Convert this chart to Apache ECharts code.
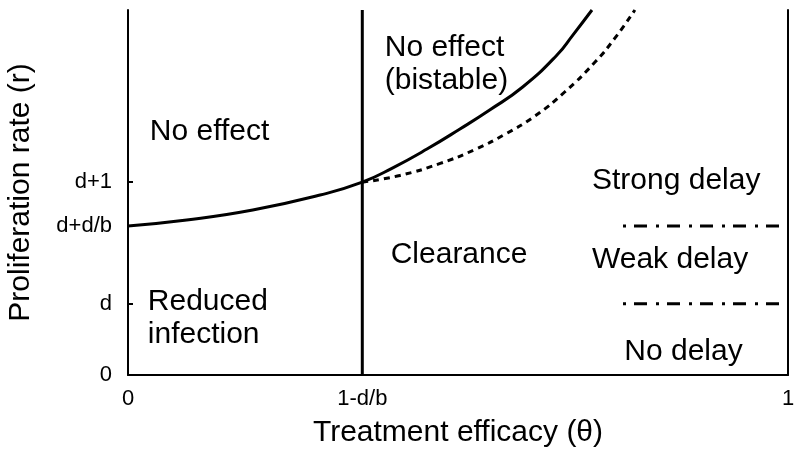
<!DOCTYPE html>
<html><head><meta charset="utf-8">
<script src="https://cdn.jsdelivr.net/npm/echarts@6/dist/echarts.min.js"></script>
<style>html,body{margin:0;padding:0;background:#fff}#c{width:800px;height:459px}</style>
</head><body><div id="c"></div>
<script>
// ---- data ----
const xTickValues = [0, 0.355, 1];
const xTickLabels = ['0', '1-d/b', '1'];
const yTickValues = [0, 0.585, 1.225, 1.585];
const yTickLabels = ['0', 'd', 'd+d/b', 'd+1'];
const thresholdTheta = 0.355;
const solidTheta = [0, 0.089, 0.189, 0.291, 0.355, 0.402, 0.453, 0.503, 0.548, 0.598, 0.650, 0.674, 0.703];
const solidR     = [1.225, 1.274, 1.356, 1.479, 1.585, 1.705, 1.857, 2.022, 2.178, 2.367, 2.630, 2.794, 3.0];
const dashedTheta = [0.355, 0.412, 0.473, 0.526, 0.571, 0.617, 0.662, 0.708, 0.738, 0.768];
const dashedR     = [1.585, 1.640, 1.739, 1.854, 1.978, 2.130, 2.328, 2.574, 2.771, 3.0];
const delayTheta = [0.75, 1];
const delayLevels = [1.225, 0.585];
const regionNames = ['No effect', 'No effect\n(bistable)', 'Strong delay', 'Weak delay', 'Clearance', 'No delay', 'Reduced\ninfection'];
const regionTheta = [0.033, 0.389, 0.703, 0.703, 0.398, 0.752, 0.030];
const regionR     = [1.997, 2.556, 1.594, 0.945, 0.986, 0.189, 0.464];
const xMax = 1, yMax = 3;

// ---- chart ----
const FONT = '"Liberation Sans", Arial, sans-serif';
const chart = echarts.init(document.getElementById('c'));
const pairs = (xs, ys) => xs.map((x, i) => [x, ys[i]]);
const series = [
  { type: 'line', data: pairs(solidTheta, solidR), smooth: 0.5, symbol: 'none',
    lineStyle: { color: '#000', width: 3 } },
  { type: 'line', data: pairs(dashedTheta, dashedR), smooth: 0.5, symbol: 'none',
    lineStyle: { color: '#000', width: 3, type: [6, 5] } },
  { type: 'line', data: [[thresholdTheta, 0], [thresholdTheta, yMax]], symbol: 'none',
    lineStyle: { color: '#000', width: 3 } }
];
delayLevels.forEach(v => series.push({
  type: 'line', data: delayTheta.map(t => [t, v]), symbol: 'none',
  lineStyle: { color: '#000', width: 3, type: [3, 8, 13, 9] }
}));
series.push({
  type: 'scatter', symbolSize: 0, silent: true, itemStyle: { opacity: 1, color: '#000' },
  data: regionNames.map((n, i) => ({ value: [regionTheta[i], regionR[i]], name: n })),
  label: { show: true, position: 'right', distance: 0, formatter: p => p.name, opacity: 1,
    color: '#000', fontSize: 30, fontFamily: FONT, lineHeight: 33, align: 'left' }
});

chart.setOption({
  animation: false,
  backgroundColor: '#fff',
  grid: { left: 128, right: 12, top: 10, bottom: 84, containLabel: false, outerBoundsMode: 'none' },
  xAxis: {
    type: 'value', min: 0, max: xMax,
    name: 'Treatment efficacy (θ)', nameLocation: 'middle', nameGap: 43,
    nameTextStyle: { fontSize: 30, fontFamily: FONT, color: '#000' },
    axisLine: { show: true, lineStyle: { color: '#000', width: 2 } },
    axisTick: { show: false },
    splitLine: { show: false },
    axisLabel: { customValues: xTickValues, margin: 13, fontSize: 22, fontFamily: FONT, color: '#000',
      formatter: v => { const i = xTickValues.findIndex(t => Math.abs(t - v) < 1e-6); return i >= 0 ? xTickLabels[i] : ''; } }
  },
  yAxis: [{
    type: 'value', min: 0, max: yMax,
    name: 'Proliferation rate (r)', nameLocation: 'middle', nameGap: 92,
    nameTextStyle: { fontSize: 30, fontFamily: FONT, color: '#000' },
    axisLine: { show: true, lineStyle: { color: '#000', width: 2 } },
    axisTick: { show: true, inside: true, length: 5, customValues: yTickValues.slice(1), lineStyle: { color: '#000', width: 2 } },
    splitLine: { show: false },
    axisLabel: { customValues: yTickValues, margin: 16, fontSize: 22, fontFamily: FONT, color: '#000',
      formatter: v => { const i = yTickValues.findIndex(t => Math.abs(t - v) < 1e-6); return i >= 0 ? yTickLabels[i] : ''; } }
  }, {
    type: 'value', min: 0, max: yMax, position: 'right',
    axisLine: { show: true, lineStyle: { color: '#000', width: 2 } },
    axisTick: { show: false }, axisLabel: { show: false }, splitLine: { show: false }
  }],
  series: series
});
</script>
</body></html>
